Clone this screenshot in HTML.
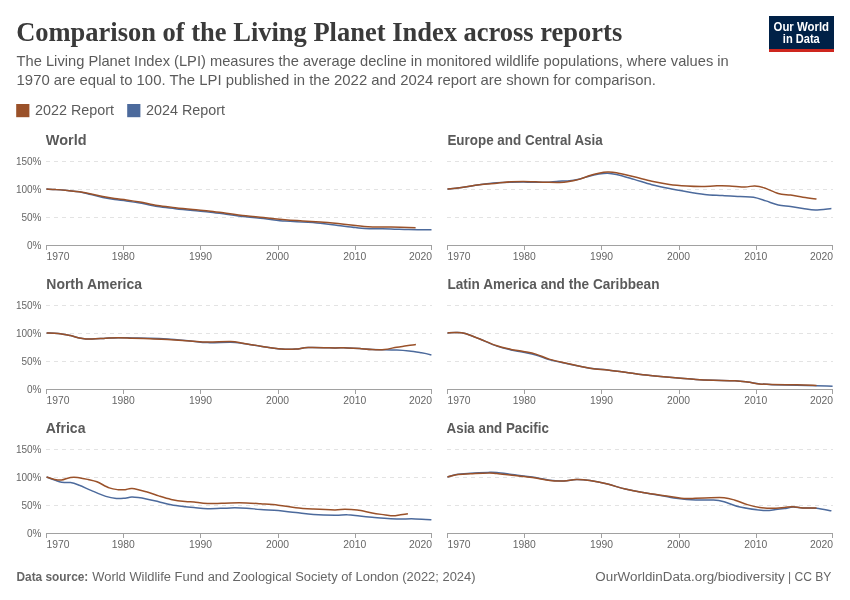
<!DOCTYPE html>
<html><head><meta charset="utf-8">
<style>
html,body{margin:0;padding:0;background:#fff;width:850px;height:600px;overflow:hidden;}
svg{display:block;will-change:transform;}
text{font-family:"Liberation Sans",sans-serif;}
.title{font-family:"Liberation Serif",serif;font-weight:bold;font-size:28px;fill:#3a3a3a;}
.sub{font-size:14.5px;fill:#5b5b5b;}
.leg{font-size:14px;fill:#5b5b5b;}
.pt{font-size:14.5px;font-weight:bold;fill:#5a5a5a;}
.yl{font-size:10px;fill:#666;text-anchor:end;}
.xl{font-size:10px;fill:#666;}
.gl{stroke:#e3e3e3;stroke-width:1;stroke-dasharray:4,4;}
.ax{stroke:#a1a1a1;stroke-width:1;}
.ln{fill:none;stroke-width:1.5;stroke-linejoin:round;stroke-linecap:butt;}
.foot{font-size:12px;fill:#666;}
</style></head><body>
<svg width="850" height="600" viewBox="0 0 850 600">
<text x="16.2" y="40.6" class="title" textLength="606" lengthAdjust="spacingAndGlyphs">Comparison of the Living Planet Index across reports</text>
<text x="16.6" y="66.2" class="sub" textLength="712.2" lengthAdjust="spacingAndGlyphs">The Living Planet Index (LPI) measures the average decline in monitored wildlife populations, where values in</text>
<text x="16.6" y="84.7" class="sub" textLength="639.3" lengthAdjust="spacingAndGlyphs">1970 are equal to 100. The LPI published in the 2022 and 2024 report are shown for comparison.</text>
<rect x="16.2" y="104" width="13.2" height="13.2" fill="#9a5129"/>
<text x="35" y="115.2" class="leg" textLength="79" lengthAdjust="spacingAndGlyphs">2022 Report</text>
<rect x="127.2" y="104" width="13.2" height="13.2" fill="#4c6a9c"/>
<text x="146" y="115.2" class="leg" textLength="79" lengthAdjust="spacingAndGlyphs">2024 Report</text>
<rect x="769" y="16" width="65" height="33" fill="#002147"/>
<rect x="769" y="49" width="65" height="3" fill="#ce261e"/>
<text x="801.3" y="31" font-size="12" font-weight="bold" fill="#fff" text-anchor="middle" textLength="55.5" lengthAdjust="spacingAndGlyphs">Our World</text>
<text x="801.3" y="42.9" font-size="12" font-weight="bold" fill="#fff" text-anchor="middle" textLength="37" lengthAdjust="spacingAndGlyphs">in Data</text>
<text x="45.8" y="145.0" class="pt" textLength="40.7" lengthAdjust="spacingAndGlyphs">World</text>
<line x1="46" y1="161.5" x2="432" y2="161.5" class="gl"/>
<text x="41.5" y="164.8" class="yl">150%</text>
<line x1="46" y1="189.5" x2="432" y2="189.5" class="gl"/>
<text x="41.5" y="192.8" class="yl">100%</text>
<line x1="46" y1="217.5" x2="432" y2="217.5" class="gl"/>
<text x="41.5" y="220.8" class="yl">50%</text>
<text x="41.5" y="248.8" class="yl">0%</text>
<line x1="46" y1="245.5" x2="432" y2="245.5" class="ax"/>
<line x1="46.5" y1="245.5" x2="46.5" y2="250.0" class="ax"/>
<text x="46.6" y="260.3" class="xl" text-anchor="start" textLength="23" lengthAdjust="spacingAndGlyphs">1970</text>
<line x1="123.5" y1="245.5" x2="123.5" y2="250.0" class="ax"/>
<text x="123.2" y="260.3" class="xl" text-anchor="middle" textLength="23" lengthAdjust="spacingAndGlyphs">1980</text>
<line x1="200.5" y1="245.5" x2="200.5" y2="250.0" class="ax"/>
<text x="200.4" y="260.3" class="xl" text-anchor="middle" textLength="23" lengthAdjust="spacingAndGlyphs">1990</text>
<line x1="278.5" y1="245.5" x2="278.5" y2="250.0" class="ax"/>
<text x="277.6" y="260.3" class="xl" text-anchor="middle" textLength="23" lengthAdjust="spacingAndGlyphs">2000</text>
<line x1="355.5" y1="245.5" x2="355.5" y2="250.0" class="ax"/>
<text x="354.8" y="260.3" class="xl" text-anchor="middle" textLength="23" lengthAdjust="spacingAndGlyphs">2010</text>
<line x1="431.5" y1="245.5" x2="431.5" y2="250.0" class="ax"/>
<text x="432.0" y="260.3" class="xl" text-anchor="end" textLength="23" lengthAdjust="spacingAndGlyphs">2020</text>
<path d="M46.4,189.1 C48.0,189.2 52.3,189.3 55.8,189.6 C59.3,189.8 63.6,190.2 67.5,190.6 C71.4,191.0 75.4,191.1 79.3,191.8 C83.2,192.5 87.2,193.7 91.1,194.6 C95.0,195.5 98.9,196.7 102.8,197.5 C106.7,198.3 110.7,199.0 114.6,199.6 C118.5,200.2 122.2,200.4 126.4,201.0 C130.6,201.6 134.8,202.2 140.0,203.1 C145.2,204.0 151.7,205.7 157.6,206.6 C163.5,207.5 169.4,208.0 175.3,208.7 C181.2,209.4 187.0,210.0 192.9,210.6 C198.8,211.2 204.7,211.5 210.6,212.2 C216.5,212.8 222.3,213.7 228.2,214.5 C234.1,215.3 240.0,216.1 245.9,216.8 C251.8,217.5 257.0,217.9 263.5,218.6 C270.0,219.3 278.5,220.5 285.0,221.1 C291.5,221.7 296.7,221.7 302.6,222.0 C308.5,222.3 314.4,222.6 320.3,223.2 C326.2,223.8 332.1,224.8 338.0,225.5 C343.9,226.2 350.3,227.1 355.6,227.6 C360.9,228.1 363.8,228.5 369.7,228.7 C375.6,228.9 384.4,228.8 390.9,228.9 C397.4,229.1 401.7,229.4 408.5,229.6 C415.3,229.8 427.7,229.8 431.5,229.8" class="ln" stroke="#4c6a9c"/>
<path d="M46.4,189.1 C48.0,189.2 52.3,189.3 55.8,189.6 C59.3,189.8 63.6,190.2 67.5,190.6 C71.4,191.0 75.4,191.2 79.3,191.8 C83.2,192.4 87.2,193.1 91.1,193.9 C95.0,194.7 98.9,195.7 102.8,196.5 C106.7,197.3 110.7,198.0 114.6,198.6 C118.5,199.2 122.2,199.4 126.4,200.0 C130.6,200.6 134.8,201.2 140.0,202.1 C145.2,203.0 151.7,204.7 157.6,205.6 C163.5,206.5 169.4,207.0 175.3,207.7 C181.2,208.4 187.0,209.0 192.9,209.6 C198.8,210.2 204.7,210.5 210.6,211.2 C216.5,211.8 222.3,212.7 228.2,213.5 C234.1,214.3 240.0,215.1 245.9,215.8 C251.8,216.5 257.0,216.9 263.5,217.6 C270.0,218.2 278.5,219.1 285.0,219.7 C291.5,220.2 296.7,220.5 302.6,220.9 C308.5,221.3 314.4,221.6 320.3,222.0 C326.2,222.4 332.1,223.0 338.0,223.6 C343.9,224.2 350.6,225.0 355.6,225.5 C360.6,226.0 362.1,226.5 368.0,226.8 C373.9,227.1 383.0,226.9 390.9,227.1 C398.8,227.3 411.5,227.7 415.6,227.8" class="ln" stroke="#9a5129"/>
<text x="447.4" y="145.0" class="pt" textLength="155.4" lengthAdjust="spacingAndGlyphs">Europe and Central Asia</text>
<line x1="447" y1="161.5" x2="833" y2="161.5" class="gl"/>
<line x1="447" y1="189.5" x2="833" y2="189.5" class="gl"/>
<line x1="447" y1="217.5" x2="833" y2="217.5" class="gl"/>
<line x1="447" y1="245.5" x2="833" y2="245.5" class="ax"/>
<line x1="447.5" y1="245.5" x2="447.5" y2="250.0" class="ax"/>
<text x="447.6" y="260.3" class="xl" text-anchor="start" textLength="23" lengthAdjust="spacingAndGlyphs">1970</text>
<line x1="524.5" y1="245.5" x2="524.5" y2="250.0" class="ax"/>
<text x="524.2" y="260.3" class="xl" text-anchor="middle" textLength="23" lengthAdjust="spacingAndGlyphs">1980</text>
<line x1="601.5" y1="245.5" x2="601.5" y2="250.0" class="ax"/>
<text x="601.4" y="260.3" class="xl" text-anchor="middle" textLength="23" lengthAdjust="spacingAndGlyphs">1990</text>
<line x1="679.5" y1="245.5" x2="679.5" y2="250.0" class="ax"/>
<text x="678.6" y="260.3" class="xl" text-anchor="middle" textLength="23" lengthAdjust="spacingAndGlyphs">2000</text>
<line x1="756.5" y1="245.5" x2="756.5" y2="250.0" class="ax"/>
<text x="755.8" y="260.3" class="xl" text-anchor="middle" textLength="23" lengthAdjust="spacingAndGlyphs">2010</text>
<line x1="832.5" y1="245.5" x2="832.5" y2="250.0" class="ax"/>
<text x="833.0" y="260.3" class="xl" text-anchor="end" textLength="23" lengthAdjust="spacingAndGlyphs">2020</text>
<path d="M447.5,189.0 C449.9,188.8 456.3,188.3 461.6,187.6 C466.9,186.9 473.4,185.6 479.3,184.8 C485.2,184.0 491.6,183.2 496.9,182.8 C502.2,182.4 506.6,182.3 511.0,182.2 C515.4,182.1 519.3,182.1 523.4,182.1 C527.5,182.1 532.0,182.2 535.8,182.2 C539.6,182.2 542.6,182.5 546.4,182.3 C550.2,182.1 555.2,181.4 558.7,181.2 C562.2,181.0 564.0,181.3 567.5,180.9 C571.0,180.5 576.1,179.7 579.9,178.9 C583.6,178.1 586.9,176.7 590.0,175.9 C593.1,175.1 595.9,174.6 598.8,174.1 C601.7,173.6 604.6,173.1 607.6,173.2 C610.6,173.3 612.1,173.5 616.5,174.5 C620.9,175.5 628.2,177.7 634.1,179.4 C640.0,181.1 645.9,183.2 651.8,184.7 C657.7,186.2 663.5,187.4 669.4,188.6 C675.3,189.8 681.1,190.8 687.0,191.8 C692.9,192.8 698.8,193.8 704.7,194.4 C710.6,195.0 716.5,195.2 722.4,195.6 C728.3,196.0 734.8,196.3 740.0,196.6 C745.2,196.9 749.2,196.5 753.5,197.2 C757.8,197.9 761.8,199.6 765.9,200.9 C770.0,202.2 774.1,204.0 778.2,204.9 C782.3,205.8 786.5,205.9 790.6,206.5 C794.7,207.1 798.8,207.8 802.9,208.4 C807.0,209.0 810.5,210.0 815.3,210.0 C820.0,210.0 828.7,208.8 831.4,208.6" class="ln" stroke="#4c6a9c"/>
<path d="M447.5,189.0 C449.9,188.8 456.3,188.3 461.6,187.6 C466.9,186.9 473.4,185.5 479.3,184.8 C485.2,184.1 491.6,183.7 496.9,183.2 C502.2,182.7 506.6,182.1 511.0,181.8 C515.4,181.5 519.3,181.4 523.4,181.4 C527.5,181.4 532.0,181.7 535.8,181.8 C539.6,182.0 542.6,182.2 546.4,182.3 C550.2,182.4 555.2,182.6 558.7,182.5 C562.2,182.4 564.0,182.4 567.5,181.8 C571.0,181.2 576.1,180.2 579.9,179.1 C583.6,178.0 586.9,176.5 590.0,175.5 C593.1,174.5 595.9,173.8 598.8,173.2 C601.7,172.6 604.6,172.1 607.6,172.0 C610.6,171.9 612.1,171.9 616.5,172.7 C620.9,173.5 628.2,175.4 634.1,176.8 C640.0,178.2 645.9,179.9 651.8,181.2 C657.7,182.5 663.5,183.6 669.4,184.4 C675.3,185.2 681.7,185.7 687.0,186.1 C692.3,186.5 696.2,186.6 701.2,186.6 C706.2,186.6 712.3,185.9 717.0,185.8 C721.7,185.7 724.8,185.7 729.4,185.9 C734.0,186.1 740.7,187.0 744.9,187.0 C749.1,187.0 751.5,185.7 754.8,185.9 C758.1,186.1 760.7,186.7 764.6,188.0 C768.5,189.3 773.9,192.3 778.2,193.5 C782.5,194.7 786.5,194.5 790.6,195.1 C794.7,195.7 798.6,196.5 802.9,197.2 C807.2,197.9 814.2,198.8 816.5,199.1" class="ln" stroke="#9a5129"/>
<text x="46.3" y="289.0" class="pt" textLength="95.7" lengthAdjust="spacingAndGlyphs">North America</text>
<line x1="46" y1="305.5" x2="432" y2="305.5" class="gl"/>
<text x="41.5" y="308.8" class="yl">150%</text>
<line x1="46" y1="333.5" x2="432" y2="333.5" class="gl"/>
<text x="41.5" y="336.8" class="yl">100%</text>
<line x1="46" y1="361.5" x2="432" y2="361.5" class="gl"/>
<text x="41.5" y="364.8" class="yl">50%</text>
<text x="41.5" y="392.8" class="yl">0%</text>
<line x1="46" y1="389.5" x2="432" y2="389.5" class="ax"/>
<line x1="46.5" y1="389.5" x2="46.5" y2="394.0" class="ax"/>
<text x="46.6" y="404.3" class="xl" text-anchor="start" textLength="23" lengthAdjust="spacingAndGlyphs">1970</text>
<line x1="123.5" y1="389.5" x2="123.5" y2="394.0" class="ax"/>
<text x="123.2" y="404.3" class="xl" text-anchor="middle" textLength="23" lengthAdjust="spacingAndGlyphs">1980</text>
<line x1="200.5" y1="389.5" x2="200.5" y2="394.0" class="ax"/>
<text x="200.4" y="404.3" class="xl" text-anchor="middle" textLength="23" lengthAdjust="spacingAndGlyphs">1990</text>
<line x1="278.5" y1="389.5" x2="278.5" y2="394.0" class="ax"/>
<text x="277.6" y="404.3" class="xl" text-anchor="middle" textLength="23" lengthAdjust="spacingAndGlyphs">2000</text>
<line x1="355.5" y1="389.5" x2="355.5" y2="394.0" class="ax"/>
<text x="354.8" y="404.3" class="xl" text-anchor="middle" textLength="23" lengthAdjust="spacingAndGlyphs">2010</text>
<line x1="431.5" y1="389.5" x2="431.5" y2="394.0" class="ax"/>
<text x="432.0" y="404.3" class="xl" text-anchor="end" textLength="23" lengthAdjust="spacingAndGlyphs">2020</text>
<path d="M46.6,332.9 C48.5,333.0 54.1,333.1 58.1,333.5 C62.1,333.9 67.0,334.9 70.5,335.6 C74.0,336.3 75.8,337.3 79.3,337.9 C82.8,338.5 87.2,339.1 91.6,339.1 C96.0,339.2 101.4,338.4 105.8,338.2 C110.2,338.0 113.7,337.8 118.1,337.7 C122.5,337.6 126.9,337.8 132.2,337.9 C137.5,338.0 144.0,338.0 149.9,338.2 C155.8,338.4 160.8,338.6 167.5,339.0 C174.2,339.4 183.3,340.3 190.0,340.9 C196.7,341.5 200.8,342.4 207.6,342.6 C214.4,342.8 224.7,342.1 230.6,342.2 C236.5,342.3 237.9,342.7 242.9,343.4 C247.9,344.1 254.1,345.2 260.6,346.2 C267.1,347.1 275.9,348.6 281.8,349.1 C287.7,349.6 291.5,349.4 295.9,349.1 C300.3,348.9 301.7,347.8 308.2,347.6 C314.7,347.4 328.5,347.8 335.0,347.9 C341.5,347.9 343.3,347.8 347.4,347.9 C351.5,348.0 355.6,348.2 359.7,348.5 C363.8,348.8 368.0,349.3 372.1,349.5 C376.2,349.7 380.3,349.6 384.4,349.7 C388.5,349.8 392.7,349.9 396.8,350.1 C400.9,350.3 405.0,350.6 409.1,351.0 C413.2,351.4 417.8,352.2 421.5,352.8 C425.2,353.4 429.8,354.5 431.4,354.9" class="ln" stroke="#4c6a9c"/>
<path d="M46.6,332.9 C48.5,333.0 54.1,333.1 58.1,333.5 C62.1,333.9 67.0,334.9 70.5,335.6 C74.0,336.3 75.8,337.3 79.3,337.9 C82.8,338.5 87.2,339.1 91.6,339.1 C96.0,339.2 101.4,338.4 105.8,338.2 C110.2,338.0 113.7,337.7 118.1,337.7 C122.5,337.7 126.9,338.0 132.2,338.2 C137.5,338.4 144.0,338.6 149.9,338.8 C155.8,339.0 160.8,339.1 167.5,339.5 C174.2,339.9 183.3,340.5 190.0,340.9 C196.7,341.3 200.8,341.9 207.6,342.0 C214.4,342.1 224.7,341.3 230.6,341.5 C236.5,341.7 237.9,342.4 242.9,343.2 C247.9,344.0 254.1,345.2 260.6,346.2 C267.1,347.2 275.9,348.6 281.8,349.1 C287.7,349.6 291.5,349.4 295.9,349.1 C300.3,348.9 301.7,347.8 308.2,347.6 C314.7,347.4 328.5,347.8 335.0,347.9 C341.5,347.9 343.3,347.8 347.4,347.9 C351.5,348.0 355.6,348.2 359.7,348.5 C363.8,348.8 368.0,349.3 372.1,349.5 C376.2,349.7 380.3,349.9 384.4,349.5 C388.5,349.1 393.1,347.8 396.8,347.2 C400.5,346.6 403.4,346.3 406.6,345.8 C409.8,345.3 414.3,344.6 415.9,344.4" class="ln" stroke="#9a5129"/>
<text x="447.4" y="289.0" class="pt" textLength="212.1" lengthAdjust="spacingAndGlyphs">Latin America and the Caribbean</text>
<line x1="447" y1="305.5" x2="833" y2="305.5" class="gl"/>
<line x1="447" y1="333.5" x2="833" y2="333.5" class="gl"/>
<line x1="447" y1="361.5" x2="833" y2="361.5" class="gl"/>
<line x1="447" y1="389.5" x2="833" y2="389.5" class="ax"/>
<line x1="447.5" y1="389.5" x2="447.5" y2="394.0" class="ax"/>
<text x="447.6" y="404.3" class="xl" text-anchor="start" textLength="23" lengthAdjust="spacingAndGlyphs">1970</text>
<line x1="524.5" y1="389.5" x2="524.5" y2="394.0" class="ax"/>
<text x="524.2" y="404.3" class="xl" text-anchor="middle" textLength="23" lengthAdjust="spacingAndGlyphs">1980</text>
<line x1="601.5" y1="389.5" x2="601.5" y2="394.0" class="ax"/>
<text x="601.4" y="404.3" class="xl" text-anchor="middle" textLength="23" lengthAdjust="spacingAndGlyphs">1990</text>
<line x1="679.5" y1="389.5" x2="679.5" y2="394.0" class="ax"/>
<text x="678.6" y="404.3" class="xl" text-anchor="middle" textLength="23" lengthAdjust="spacingAndGlyphs">2000</text>
<line x1="756.5" y1="389.5" x2="756.5" y2="394.0" class="ax"/>
<text x="755.8" y="404.3" class="xl" text-anchor="middle" textLength="23" lengthAdjust="spacingAndGlyphs">2010</text>
<line x1="832.5" y1="389.5" x2="832.5" y2="394.0" class="ax"/>
<text x="833.0" y="404.3" class="xl" text-anchor="end" textLength="23" lengthAdjust="spacingAndGlyphs">2020</text>
<path d="M447.5,332.9 C449.0,332.8 453.4,332.3 456.4,332.4 C459.3,332.5 461.4,332.4 465.2,333.5 C469.0,334.6 474.0,336.7 479.3,338.8 C484.6,340.9 491.6,344.2 496.9,346.1 C502.2,348.0 506.6,348.9 511.0,349.9 C515.4,350.9 519.3,351.3 523.4,352.2 C527.5,353.1 531.4,353.7 535.8,355.0 C540.2,356.3 544.6,358.4 549.9,359.9 C555.2,361.4 560.8,362.4 567.5,363.8 C574.2,365.2 583.3,367.2 590.0,368.2 C596.7,369.2 601.7,369.3 607.6,370.0 C613.5,370.7 619.4,371.5 625.3,372.3 C631.2,373.1 637.0,374.1 642.9,374.8 C648.8,375.5 654.7,376.0 660.6,376.5 C666.5,377.0 672.3,377.4 678.2,377.9 C684.1,378.4 690.0,379.0 695.9,379.4 C701.8,379.8 707.0,380.0 713.5,380.2 C720.0,380.4 729.4,380.5 735.0,380.8 C740.6,381.1 743.3,381.5 747.4,382.0 C751.5,382.5 755.6,383.4 759.7,383.9 C763.8,384.3 765.9,384.5 772.1,384.7 C778.3,384.9 789.4,385.0 796.8,385.2 C804.2,385.4 810.5,385.6 816.5,385.8 C822.5,386.0 829.9,386.1 832.6,386.2" class="ln" stroke="#4c6a9c"/>
<path d="M447.5,332.9 C449.0,332.8 453.4,332.3 456.4,332.4 C459.3,332.5 461.4,332.4 465.2,333.5 C469.0,334.6 474.0,336.8 479.3,338.8 C484.6,340.9 491.6,344.0 496.9,345.8 C502.2,347.6 506.6,348.4 511.0,349.4 C515.4,350.3 519.3,350.7 523.4,351.5 C527.5,352.3 531.4,352.8 535.8,354.1 C540.2,355.4 544.6,357.8 549.9,359.4 C555.2,361.0 560.8,362.0 567.5,363.5 C574.2,365.0 583.3,367.1 590.0,368.2 C596.7,369.3 601.7,369.3 607.6,370.0 C613.5,370.7 619.4,371.5 625.3,372.3 C631.2,373.1 637.0,374.1 642.9,374.8 C648.8,375.5 654.7,376.0 660.6,376.5 C666.5,377.0 672.3,377.4 678.2,377.9 C684.1,378.4 690.0,379.0 695.9,379.4 C701.8,379.8 707.0,380.0 713.5,380.2 C720.0,380.4 729.4,380.5 735.0,380.8 C740.6,381.1 743.3,381.5 747.4,382.0 C751.5,382.5 755.6,383.5 759.7,383.9 C763.8,384.3 765.9,384.4 772.1,384.5 C778.3,384.6 789.4,384.7 796.8,384.8 C804.2,384.9 813.2,385.3 816.5,385.4" class="ln" stroke="#9a5129"/>
<text x="45.7" y="433.0" class="pt" textLength="39.8" lengthAdjust="spacingAndGlyphs">Africa</text>
<line x1="46" y1="449.5" x2="432" y2="449.5" class="gl"/>
<text x="41.5" y="452.8" class="yl">150%</text>
<line x1="46" y1="477.5" x2="432" y2="477.5" class="gl"/>
<text x="41.5" y="480.8" class="yl">100%</text>
<line x1="46" y1="505.5" x2="432" y2="505.5" class="gl"/>
<text x="41.5" y="508.8" class="yl">50%</text>
<text x="41.5" y="536.8" class="yl">0%</text>
<line x1="46" y1="533.5" x2="432" y2="533.5" class="ax"/>
<line x1="46.5" y1="533.5" x2="46.5" y2="538.0" class="ax"/>
<text x="46.6" y="548.3" class="xl" text-anchor="start" textLength="23" lengthAdjust="spacingAndGlyphs">1970</text>
<line x1="123.5" y1="533.5" x2="123.5" y2="538.0" class="ax"/>
<text x="123.2" y="548.3" class="xl" text-anchor="middle" textLength="23" lengthAdjust="spacingAndGlyphs">1980</text>
<line x1="200.5" y1="533.5" x2="200.5" y2="538.0" class="ax"/>
<text x="200.4" y="548.3" class="xl" text-anchor="middle" textLength="23" lengthAdjust="spacingAndGlyphs">1990</text>
<line x1="278.5" y1="533.5" x2="278.5" y2="538.0" class="ax"/>
<text x="277.6" y="548.3" class="xl" text-anchor="middle" textLength="23" lengthAdjust="spacingAndGlyphs">2000</text>
<line x1="355.5" y1="533.5" x2="355.5" y2="538.0" class="ax"/>
<text x="354.8" y="548.3" class="xl" text-anchor="middle" textLength="23" lengthAdjust="spacingAndGlyphs">2010</text>
<line x1="431.5" y1="533.5" x2="431.5" y2="538.0" class="ax"/>
<text x="432.0" y="548.3" class="xl" text-anchor="end" textLength="23" lengthAdjust="spacingAndGlyphs">2020</text>
<path d="M46.6,477.0 C47.9,477.5 52.1,479.1 54.6,480.0 C57.1,480.9 59.0,481.9 61.6,482.3 C64.2,482.7 67.5,482.1 70.5,482.6 C73.5,483.1 75.8,484.0 79.3,485.3 C82.8,486.6 87.2,488.8 91.6,490.6 C96.0,492.5 101.7,495.1 105.8,496.4 C109.9,497.7 113.2,498.2 116.4,498.5 C119.6,498.8 122.6,498.4 125.2,498.2 C127.8,498.0 128.7,497.0 132.2,497.1 C135.7,497.2 141.9,498.1 146.3,498.9 C150.7,499.7 154.6,500.7 158.7,501.7 C162.8,502.7 166.7,503.8 171.1,504.7 C175.5,505.6 181.4,506.3 185.2,506.8 C189.0,507.3 190.3,507.2 194.0,507.5 C197.7,507.8 201.5,508.7 207.6,508.8 C213.7,508.9 224.1,508.0 230.6,507.9 C237.1,507.8 241.5,507.9 246.5,508.2 C251.5,508.5 255.3,509.1 260.6,509.5 C265.9,509.9 272.3,510.0 278.2,510.5 C284.1,511.0 290.0,512.0 295.9,512.6 C301.8,513.2 307.0,514.0 313.5,514.4 C320.0,514.8 329.4,515.1 335.0,515.2 C340.6,515.3 343.3,514.6 347.4,514.8 C351.5,514.9 355.6,515.7 359.7,516.1 C363.8,516.5 368.0,516.9 372.1,517.3 C376.2,517.7 380.3,518.0 384.4,518.3 C388.5,518.6 391.6,518.8 396.8,518.9 C402.0,519.0 409.5,518.8 415.3,518.9 C421.1,519.0 428.7,519.6 431.4,519.8" class="ln" stroke="#4c6a9c"/>
<path d="M46.6,477.0 C47.9,477.4 52.1,479.0 54.6,479.5 C57.1,480.0 59.0,480.4 61.6,480.0 C64.2,479.6 67.8,477.8 70.5,477.4 C73.2,477.0 74.6,477.0 77.5,477.4 C80.4,477.8 84.9,478.8 88.1,479.5 C91.3,480.2 93.4,480.4 96.9,481.8 C100.4,483.2 105.8,486.6 109.3,487.9 C112.8,489.2 115.4,489.4 118.1,489.7 C120.8,490.0 122.9,489.9 125.2,489.7 C127.5,489.5 128.7,488.1 132.2,488.5 C135.7,488.9 141.9,490.6 146.3,491.8 C150.7,493.0 154.6,494.6 158.7,495.9 C162.8,497.2 166.7,498.5 171.1,499.4 C175.5,500.3 181.4,501.1 185.2,501.5 C189.0,501.9 190.3,501.8 194.0,502.1 C197.7,502.4 201.5,503.4 207.6,503.5 C213.7,503.6 224.1,503.0 230.6,502.9 C237.1,502.8 241.5,502.8 246.5,502.9 C251.5,503.0 255.3,503.4 260.6,503.8 C265.9,504.2 272.3,504.6 278.2,505.2 C284.1,505.8 290.0,507.0 295.9,507.7 C301.8,508.4 307.0,508.7 313.5,509.1 C320.0,509.5 329.8,509.9 335.0,509.9 C340.2,509.9 341.2,509.3 344.9,509.3 C348.6,509.3 352.7,509.5 357.2,510.1 C361.7,510.7 367.6,512.2 372.1,513.0 C376.6,513.8 380.9,514.3 384.4,514.8 C387.9,515.2 390.4,515.7 393.1,515.7 C395.8,515.7 398.0,515.1 400.5,514.8 C403.0,514.5 406.7,514.0 407.9,513.8" class="ln" stroke="#9a5129"/>
<text x="446.6" y="433.0" class="pt" textLength="102.3" lengthAdjust="spacingAndGlyphs">Asia and Pacific</text>
<line x1="447" y1="449.5" x2="833" y2="449.5" class="gl"/>
<line x1="447" y1="477.5" x2="833" y2="477.5" class="gl"/>
<line x1="447" y1="505.5" x2="833" y2="505.5" class="gl"/>
<line x1="447" y1="533.5" x2="833" y2="533.5" class="ax"/>
<line x1="447.5" y1="533.5" x2="447.5" y2="538.0" class="ax"/>
<text x="447.6" y="548.3" class="xl" text-anchor="start" textLength="23" lengthAdjust="spacingAndGlyphs">1970</text>
<line x1="524.5" y1="533.5" x2="524.5" y2="538.0" class="ax"/>
<text x="524.2" y="548.3" class="xl" text-anchor="middle" textLength="23" lengthAdjust="spacingAndGlyphs">1980</text>
<line x1="601.5" y1="533.5" x2="601.5" y2="538.0" class="ax"/>
<text x="601.4" y="548.3" class="xl" text-anchor="middle" textLength="23" lengthAdjust="spacingAndGlyphs">1990</text>
<line x1="679.5" y1="533.5" x2="679.5" y2="538.0" class="ax"/>
<text x="678.6" y="548.3" class="xl" text-anchor="middle" textLength="23" lengthAdjust="spacingAndGlyphs">2000</text>
<line x1="756.5" y1="533.5" x2="756.5" y2="538.0" class="ax"/>
<text x="755.8" y="548.3" class="xl" text-anchor="middle" textLength="23" lengthAdjust="spacingAndGlyphs">2010</text>
<line x1="832.5" y1="533.5" x2="832.5" y2="538.0" class="ax"/>
<text x="833.0" y="548.3" class="xl" text-anchor="end" textLength="23" lengthAdjust="spacingAndGlyphs">2020</text>
<path d="M447.5,477.0 C449.0,476.6 452.6,475.1 456.4,474.5 C460.2,473.9 465.2,473.6 470.5,473.2 C475.8,472.8 483.7,472.5 488.1,472.4 C492.5,472.3 492.5,472.2 496.9,472.6 C501.3,473.0 508.7,474.1 514.6,474.8 C520.5,475.6 526.3,476.2 532.2,477.1 C538.1,478.0 544.6,479.7 549.9,480.3 C555.2,480.9 559.6,481.0 564.0,480.9 C568.4,480.8 572.0,479.6 576.3,479.5 C580.6,479.4 584.8,479.8 590.0,480.6 C595.2,481.4 601.7,482.7 607.6,484.1 C613.5,485.5 619.4,487.7 625.3,489.1 C631.2,490.5 637.0,491.6 642.9,492.6 C648.8,493.7 654.7,494.4 660.6,495.4 C666.5,496.4 672.3,497.8 678.2,498.6 C684.1,499.4 690.0,499.8 695.9,500.0 C701.8,500.2 708.8,499.7 713.5,500.0 C718.2,500.3 719.7,500.6 724.1,501.8 C728.5,503.0 733.5,505.7 740.0,507.1 C746.5,508.5 757.4,510.0 763.4,510.4 C769.4,510.8 772.3,509.9 775.8,509.6 C779.3,509.3 781.5,509.0 784.4,508.6 C787.3,508.2 790.0,507.2 793.1,507.1 C796.2,507.0 799.0,507.8 802.9,508.0 C806.8,508.2 811.8,507.8 816.5,508.3 C821.2,508.8 828.9,510.4 831.4,510.8" class="ln" stroke="#4c6a9c"/>
<path d="M447.5,477.0 C449.0,476.6 452.6,475.2 456.4,474.7 C460.2,474.2 465.2,474.1 470.5,473.8 C475.8,473.5 483.7,472.9 488.1,472.9 C492.5,472.8 492.5,473.1 496.9,473.5 C501.3,473.9 508.7,475.0 514.6,475.6 C520.5,476.2 526.3,476.6 532.2,477.4 C538.1,478.2 544.6,479.9 549.9,480.5 C555.2,481.1 559.6,481.1 564.0,480.9 C568.4,480.7 572.0,479.6 576.3,479.5 C580.6,479.4 584.8,479.8 590.0,480.6 C595.2,481.4 601.7,482.7 607.6,484.1 C613.5,485.5 619.4,487.7 625.3,489.1 C631.2,490.5 637.0,491.6 642.9,492.6 C648.8,493.6 654.7,494.4 660.6,495.2 C666.5,496.0 673.8,497.1 678.2,497.7 C682.6,498.3 682.6,498.6 687.0,498.6 C691.4,498.6 698.5,498.0 704.7,497.9 C710.9,497.8 719.1,497.3 724.1,497.7 C729.1,498.1 731.1,499.0 735.0,500.2 C738.9,501.4 743.3,503.4 747.4,504.6 C751.5,505.8 755.6,506.8 759.7,507.4 C763.8,508.0 768.0,508.3 772.1,508.3 C776.2,508.3 780.9,507.7 784.4,507.4 C787.9,507.1 790.0,506.6 793.1,506.7 C796.2,506.8 799.0,507.8 802.9,508.0 C806.8,508.2 814.2,508.0 816.5,508.0" class="ln" stroke="#9a5129"/>
<text x="16.5" y="580.5" class="foot" font-weight="bold" textLength="71.8" lengthAdjust="spacingAndGlyphs">Data source:</text>
<text x="92.3" y="580.5" class="foot" textLength="383.2" lengthAdjust="spacingAndGlyphs">World Wildlife Fund and Zoological Society of London (2022; 2024)</text>
<text x="595.3" y="580.5" class="foot" textLength="189.5" lengthAdjust="spacingAndGlyphs">OurWorldinData.org/biodiversity</text>
<text x="789.6" y="580.5" class="foot" text-anchor="middle">|</text>
<text x="794.4" y="580.5" class="foot" textLength="37" lengthAdjust="spacingAndGlyphs">CC BY</text>
</svg>
</body></html>
